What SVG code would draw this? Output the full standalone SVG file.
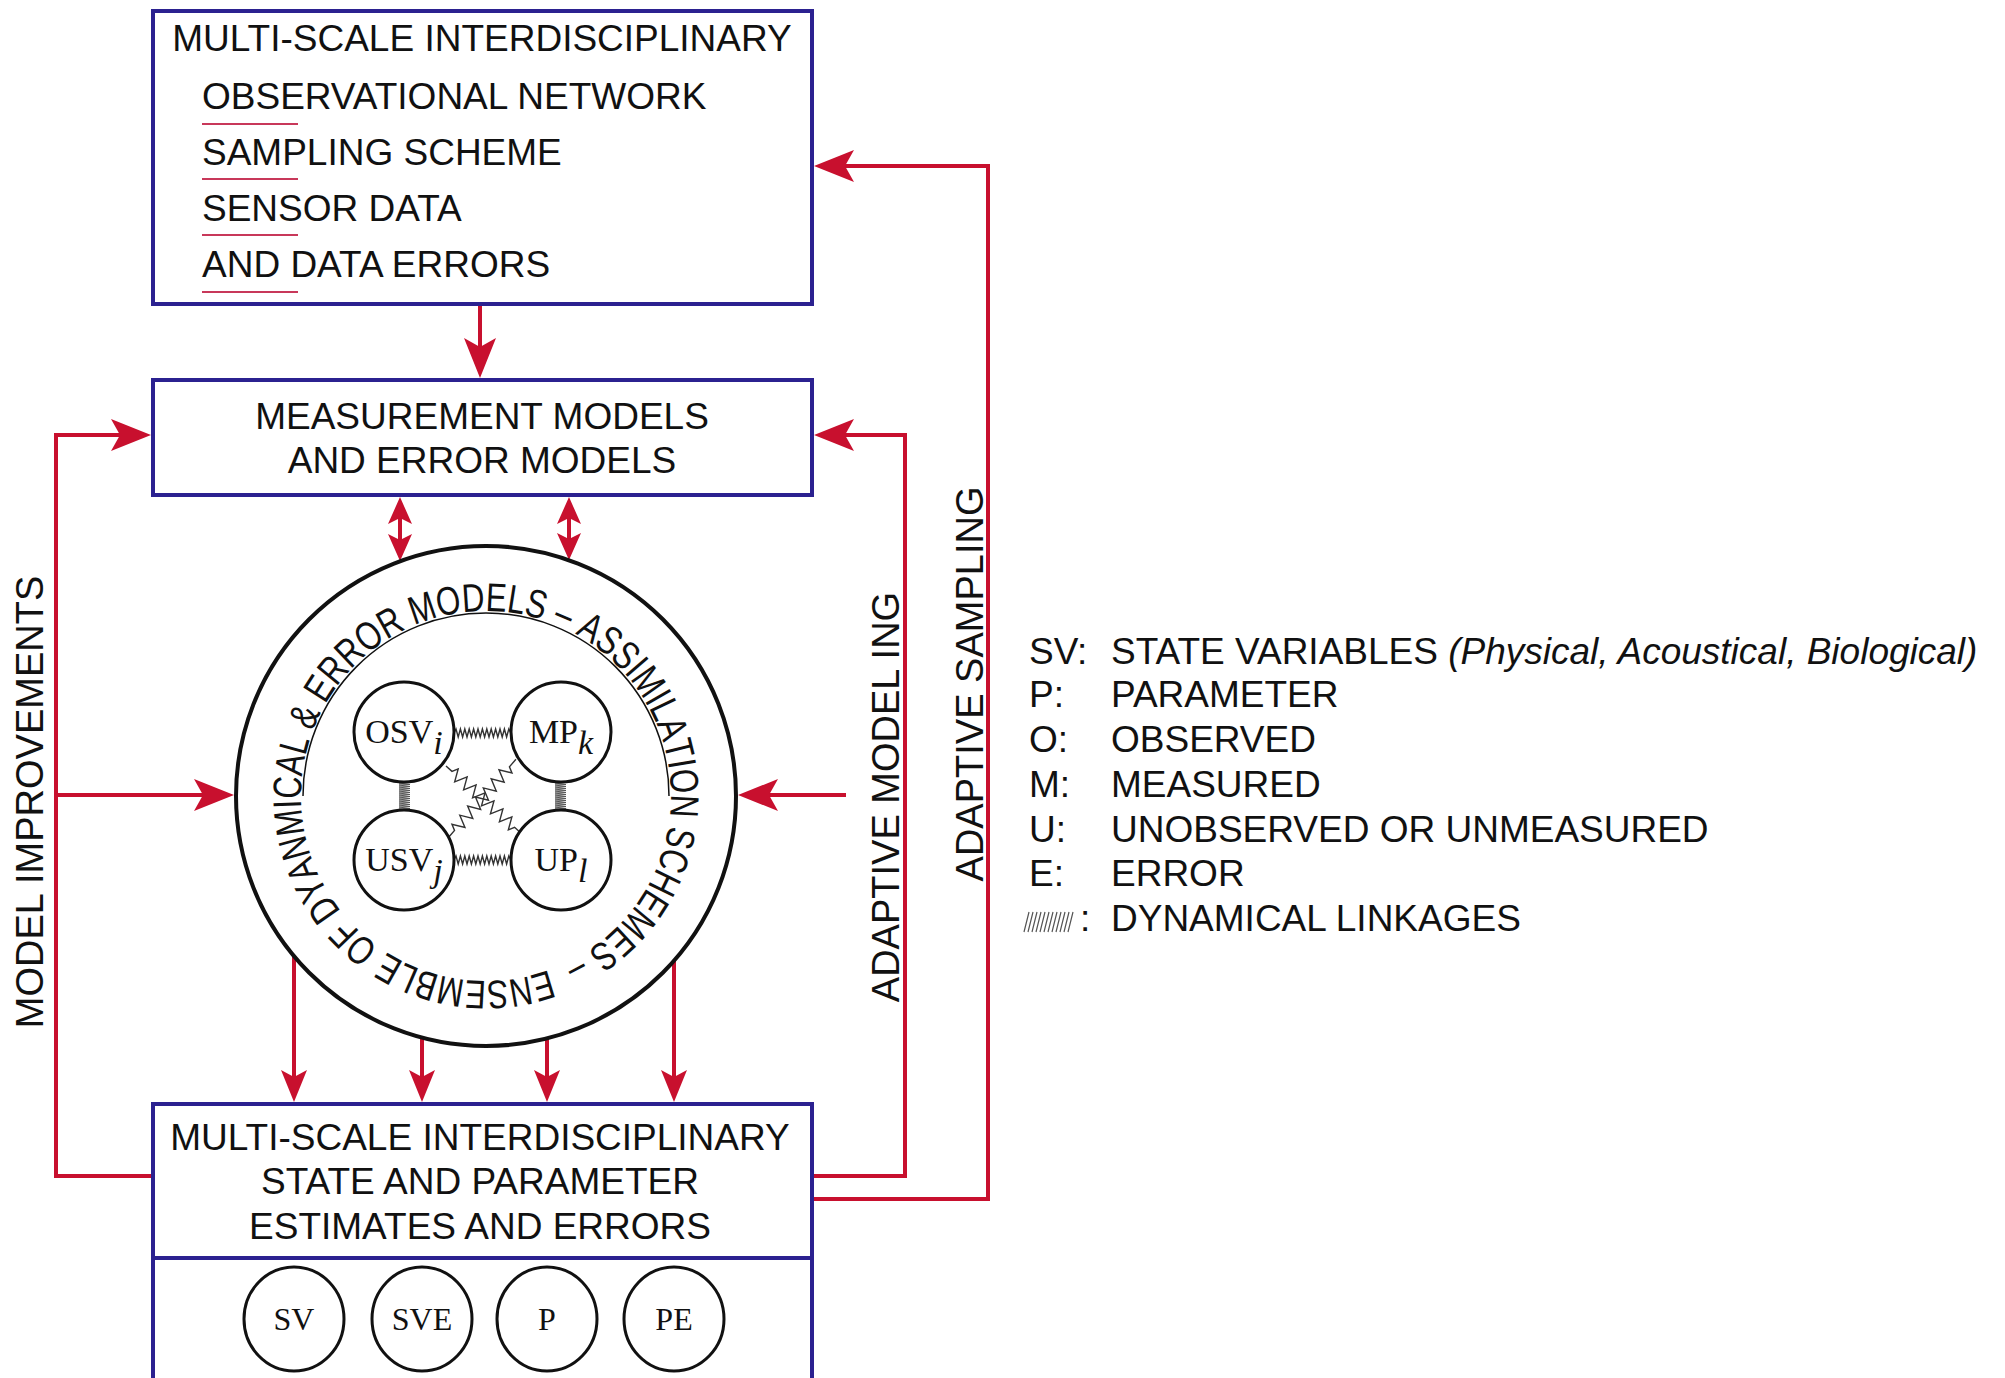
<svg xmlns="http://www.w3.org/2000/svg" width="2005" height="1378" viewBox="0 0 2005 1378">
<style>
.box{fill:#fff;stroke:#2b2190;stroke-width:4}
.t{font-family:"Liberation Sans",Arial,Helvetica,sans-serif;font-size:37px;fill:#111}
.rt{font-family:"Liberation Sans",Arial,Helvetica,sans-serif;font-size:38px;fill:#111}
.ring text{font-family:"Liberation Sans",Arial,Helvetica,sans-serif;font-size:40px;fill:#111;text-anchor:middle}
.s{font-family:"Liberation Serif","Times New Roman",serif;font-size:34px;fill:#111}
.sb{font-family:"Liberation Serif","Times New Roman",serif;font-size:32px;fill:#111}
.it{font-style:italic}
.r{fill:none;stroke:#c8102e;stroke-width:4}
.ul{stroke:#c8385a;stroke-width:2}
.c{fill:#fff;stroke:#111;stroke-width:3}
.zz{fill:none;stroke:#333;stroke-width:1.4}
.coil{fill:none;stroke:#555;stroke-width:1}
</style>
<defs>
<marker id="aL" markerUnits="userSpaceOnUse" viewBox="-34 -18 44 36" markerWidth="44" markerHeight="36" refX="0" refY="0" orient="auto" overflow="visible">
<path d="M8,0 L-32,-16 L-23,0 L-32,16 Z" fill="#c8102e"/>
</marker>
<marker id="aM" markerUnits="userSpaceOnUse" viewBox="-26 -15 36 30" markerWidth="36" markerHeight="30" refX="0" refY="0" orient="auto" overflow="visible">
<path d="M8,0 L-24,-13 L-17,0 L-24,13 Z" fill="#c8102e"/>
</marker>
<marker id="aS" markerUnits="userSpaceOnUse" viewBox="-22 -14 32 28" markerWidth="32" markerHeight="28" refX="0" refY="0" orient="auto-start-reverse" overflow="visible">
<path d="M8,0 L-19,-12 L-13,0 L-19,12 Z" fill="#c8102e"/>
</marker>
</defs>

<g id="connectors">
<path class="r" d="M480,304 V370" marker-end="url(#aL)"/>
<path class="r" d="M153,1176 H56 V435 H143" marker-end="url(#aL)"/>
<path class="r" d="M56,795 H226" marker-end="url(#aL)"/>
<path class="r" d="M812,1176 H905 V435 H822" marker-end="url(#aL)"/>
<path class="r" d="M846,795 H746" marker-end="url(#aL)"/>
<path class="r" d="M812,1199 H988 V166 H822" marker-end="url(#aL)"/>
<path class="r" d="M400,505 V553" marker-start="url(#aS)" marker-end="url(#aS)"/>
<path class="r" d="M569,505 V552" marker-start="url(#aS)" marker-end="url(#aS)"/>
<path class="r" d="M294,956 V1094" marker-end="url(#aM)"/>
<path class="r" d="M422,1038 V1094" marker-end="url(#aM)"/>
<path class="r" d="M547,1038 V1094" marker-end="url(#aM)"/>
<path class="r" d="M674,961 V1094" marker-end="url(#aM)"/>
</g>

<g id="observational-box">
<rect class="box" x="153" y="11" width="659" height="293"/>
<text class="t" x="482" y="51" text-anchor="middle">MULTI-SCALE INTERDISCIPLINARY</text>
<text class="t" x="202" y="109">OBSERVATIONAL NETWORK</text>
<text class="t" x="202" y="165">SAMPLING SCHEME</text>
<text class="t" x="202" y="221">SENSOR DATA</text>
<text class="t" x="202" y="277">AND DATA ERRORS</text>
<path class="ul" d="M202,124 H298 M202,179 H298 M202,235 H298 M202,292 H298"/>
</g>

<g id="measurement-box">
<rect class="box" x="153" y="380" width="659" height="115"/>
<text class="t" x="482" y="429" text-anchor="middle">MEASUREMENT MODELS</text>
<text class="t" x="482" y="473" text-anchor="middle">AND ERROR MODELS</text>
</g>

<g id="ensemble-circle">
<circle cx="486" cy="796" r="250" fill="#fff" stroke="#111" stroke-width="4"/>
<path d="M303,796 A183,183 0 0 1 669,796" fill="none" stroke="#111" stroke-width="1.5"/>
<g class="ring" transform="translate(486 796)">
<text transform="rotate(-196.78) translate(0 -185) scale(0.78 1)">E</text>
<text transform="rotate(-190.07) translate(0 -185) scale(0.78 1)">N</text>
<text transform="rotate(-183.36) translate(0 -185) scale(0.78 1)">S</text>
<text transform="rotate(-176.91) translate(0 -185) scale(0.78 1)">E</text>
<text transform="rotate(-169.66) translate(0 -185) scale(0.78 1)">M</text>
<text transform="rotate(-162.42) translate(0 -185) scale(0.78 1)">B</text>
<text transform="rotate(-156.51) translate(0 -185) scale(0.78 1)">L</text>
<text transform="rotate(-150.60) translate(0 -185) scale(0.78 1)">E</text>
<text transform="rotate(-140.93) translate(0 -185) scale(0.78 1)">O</text>
<text transform="rotate(-134.22) translate(0 -185) scale(0.78 1)">F</text>
<text transform="rotate(-125.09) translate(0 -185) scale(0.78 1)">D</text>
<text transform="rotate(-118.38) translate(0 -185) scale(0.78 1)">Y</text>
<text transform="rotate(-111.94) translate(0 -185) scale(0.78 1)">A</text>
<text transform="rotate(-105.23) translate(0 -185) scale(0.78 1)">N</text>
<text transform="rotate(-97.71) translate(0 -185) scale(0.78 1)">M</text>
<text transform="rotate(-92.35) translate(0 -185) scale(0.78 1)">I</text>
<text transform="rotate(-87.51) translate(0 -185) scale(0.78 1)">C</text>
<text transform="rotate(-80.80) translate(0 -185) scale(0.78 1)">A</text>
<text transform="rotate(-74.89) translate(0 -185) scale(0.78 1)">L</text>
<text transform="rotate(-66.30) translate(0 -185) scale(0.78 1)">&amp;</text>
<text transform="rotate(-57.17) translate(0 -185) scale(0.78 1)">E</text>
<text transform="rotate(-50.46) translate(0 -185) scale(0.78 1)">R</text>
<text transform="rotate(-43.48) translate(0 -185) scale(0.78 1)">R</text>
<text transform="rotate(-36.23) translate(0 -185) scale(0.78 1)">O</text>
<text transform="rotate(-28.99) translate(0 -185) scale(0.78 1)">R</text>
<text transform="rotate(-18.79) translate(0 -185) scale(0.78 1)">M</text>
<text transform="rotate(-11.00) translate(0 -185) scale(0.78 1)">O</text>
<text transform="rotate(-3.76) translate(0 -185) scale(0.78 1)">D</text>
<text transform="rotate(2.96) translate(0 -185) scale(0.78 1)">E</text>
<text transform="rotate(8.86) translate(0 -185) scale(0.78 1)">L</text>
<text transform="rotate(14.77) translate(0 -185) scale(0.78 1)">S</text>
<text transform="rotate(23.37) translate(0 -185) scale(0.78 1)">–</text>
<text transform="rotate(31.96) translate(0 -185) scale(0.78 1)">A</text>
<text transform="rotate(38.41) translate(0 -185) scale(0.78 1)">S</text>
<text transform="rotate(44.85) translate(0 -185) scale(0.78 1)">S</text>
<text transform="rotate(49.42) translate(0 -185) scale(0.78 1)">I</text>
<text transform="rotate(54.79) translate(0 -185) scale(0.78 1)">M</text>
<text transform="rotate(60.15) translate(0 -185) scale(0.78 1)">I</text>
<text transform="rotate(64.18) translate(0 -185) scale(0.78 1)">L</text>
<text transform="rotate(70.09) translate(0 -185) scale(0.78 1)">A</text>
<text transform="rotate(76.27) translate(0 -185) scale(0.78 1)">T</text>
<text transform="rotate(80.56) translate(0 -185) scale(0.78 1)">I</text>
<text transform="rotate(85.66) translate(0 -185) scale(0.78 1)">O</text>
<text transform="rotate(92.91) translate(0 -185) scale(0.78 1)">N</text>
<text transform="rotate(102.31) translate(0 -185) scale(0.78 1)">S</text>
<text transform="rotate(109.02) translate(0 -185) scale(0.78 1)">C</text>
<text transform="rotate(116.00) translate(0 -185) scale(0.78 1)">H</text>
<text transform="rotate(122.71) translate(0 -185) scale(0.78 1)">E</text>
<text transform="rotate(129.96) translate(0 -185) scale(0.78 1)">M</text>
<text transform="rotate(137.20) translate(0 -185) scale(0.78 1)">E</text>
<text transform="rotate(143.65) translate(0 -185) scale(0.78 1)">S</text>
<text transform="rotate(152.25) translate(0 -185) scale(0.78 1)">–</text>
</g>
</g>

<g id="linkages">
<path class="zz" d="M454,733 l2,-4 l2.2,8 l2.2,-8 l2.2,8 l2.2,-8 l2.2,8 l2.2,-8 l2.2,8 l2.2,-8 l2.2,8 l2.2,-8 l2.2,8 l2.2,-8 l2.2,8 l2.2,-8 l2.2,8 l2.2,-8 l2.2,8 l2.2,-8 l2.2,8 l2.2,-8 l2.2,8 l2.2,-8 l2.2,8 l2.2,-8 l2,4"/>
<path class="zz" d="M454,860 l2,-4 l2.2,8 l2.2,-8 l2.2,8 l2.2,-8 l2.2,8 l2.2,-8 l2.2,8 l2.2,-8 l2.2,8 l2.2,-8 l2.2,8 l2.2,-8 l2.2,8 l2.2,-8 l2.2,8 l2.2,-8 l2.2,8 l2.2,-8 l2.2,8 l2.2,-8 l2.2,8 l2.2,-8 l2.2,8 l2.2,-8 l2,4"/>
<path class="coil" d="M399,781 l11,1.6 l-11,0.4 l11,1.6 l-11,0.4 l11,1.6 l-11,0.4 l11,1.6 l-11,0.4 l11,1.6 l-11,0.4 l11,1.6 l-11,0.4 l11,1.6 l-11,0.4 l11,1.6 l-11,0.4 l11,1.6 l-11,0.4 l11,1.6 l-11,0.4 l11,1.6 l-11,0.4 l11,1.6 l-11,0.4 l11,1.6 l-11,0.4 l11,1.6 l-11,0.4 l11,1.6 l-11,0.4"/>
<path class="coil" d="M555,781 l11,1.6 l-11,0.4 l11,1.6 l-11,0.4 l11,1.6 l-11,0.4 l11,1.6 l-11,0.4 l11,1.6 l-11,0.4 l11,1.6 l-11,0.4 l11,1.6 l-11,0.4 l11,1.6 l-11,0.4 l11,1.6 l-11,0.4 l11,1.6 l-11,0.4 l11,1.6 l-11,0.4 l11,1.6 l-11,0.4 l11,1.6 l-11,0.4 l11,1.6 l-11,0.4 l11,1.6 l-11,0.4"/>
<path class="zz" transform="translate(446,766) rotate(41.8)" d="M0,0 h8 l3,-6 l6,12 l6,-12 l6,12 l6,-12 l6,12 l6,-12 l6,12 l6,-12 l6,12 l6,-12 l6,12 l6,-12 l6,12 l3,-6 h8"/>
<path class="zz" transform="translate(448,838) rotate(-49.2)" d="M0,0 h10 l3,-6 l6,12 l6,-12 l6,12 l6,-12 l6,12 l6,-12 l6,12 l6,-12 l6,12 l6,-12 l6,12 l6,-12 l6,12 l3,-6 h10"/>
</g>

<g id="osv">
<circle class="c" cx="404" cy="732" r="50"/>
<text class="s" x="404" y="743" text-anchor="middle">OSV<tspan class="it" dy="11">i</tspan></text>
</g>
<g id="mp">
<circle class="c" cx="561" cy="732" r="50"/>
<text class="s" x="561" y="743" text-anchor="middle">MP<tspan class="it" dy="11">k</tspan></text>
</g>
<g id="usv">
<circle class="c" cx="404" cy="860" r="50"/>
<text class="s" x="404" y="871" text-anchor="middle">USV<tspan class="it" dy="11">j</tspan></text>
</g>
<g id="up">
<circle class="c" cx="561" cy="860" r="50"/>
<text class="s" x="561" y="871" text-anchor="middle">UP<tspan class="it" dy="11">l</tspan></text>
</g>

<g id="estimates-box">
<rect class="box" x="153" y="1104" width="659" height="320"/>
<line x1="153" y1="1258" x2="812" y2="1258" stroke="#2b2190" stroke-width="4"/>
<text class="t" x="480" y="1150" text-anchor="middle">MULTI-SCALE INTERDISCIPLINARY</text>
<text class="t" x="480" y="1194" text-anchor="middle">STATE AND PARAMETER</text>
<text class="t" x="480" y="1239" text-anchor="middle">ESTIMATES AND ERRORS</text>
</g>
<g id="sv"><ellipse class="c" cx="294" cy="1319" rx="50" ry="52"/><text class="sb" x="294" y="1330" text-anchor="middle">SV</text></g>
<g id="sve"><ellipse class="c" cx="422" cy="1319" rx="50" ry="52"/><text class="sb" x="422" y="1330" text-anchor="middle">SVE</text></g>
<g id="p"><ellipse class="c" cx="547" cy="1319" rx="50" ry="52"/><text class="sb" x="547" y="1330" text-anchor="middle">P</text></g>
<g id="pe"><ellipse class="c" cx="674" cy="1319" rx="50" ry="52"/><text class="sb" x="674" y="1330" text-anchor="middle">PE</text></g>

<g id="loop-labels">
<text class="rt" transform="translate(43,802) rotate(-90)" text-anchor="middle">MODEL IMPROVEMENTS</text>
<text class="rt" transform="translate(899,797) rotate(-90)" text-anchor="middle">ADAPTIVE MODEL ING</text>
<text class="rt" transform="translate(983,684) rotate(-90)" text-anchor="middle">ADAPTIVE SAMPLING</text>
</g>

<g id="legend">
<text class="t" x="1029" y="664">SV:</text>
<text class="t" x="1111" y="664">STATE VARIABLES <tspan class="it">(Physical, Acoustical, Biological)</tspan></text>
<text class="t" x="1029" y="707">P:</text>
<text class="t" x="1111" y="707">PARAMETER</text>
<text class="t" x="1029" y="752">O:</text>
<text class="t" x="1111" y="752">OBSERVED</text>
<text class="t" x="1029" y="797">M:</text>
<text class="t" x="1111" y="797">MEASURED</text>
<text class="t" x="1029" y="842">U:</text>
<text class="t" x="1111" y="842">UNOBSERVED OR UNMEASURED</text>
<text class="t" x="1029" y="886">E:</text>
<text class="t" x="1111" y="886">ERROR</text>
<path d="M1024,932 l5,-20 M1028,932 l5,-20 M1032,932 l5,-20 M1036,932 l5,-20 M1040,932 l5,-20 M1044,932 l5,-20 M1048,932 l5,-20 M1052,932 l5,-20 M1056,932 l5,-20 M1060,932 l5,-20 M1064,932 l5,-20 M1068,932 l5,-20" stroke="#555" stroke-width="1.2" fill="none"/>
<text class="t" x="1080" y="931">:</text>
<text class="t" x="1111" y="931">DYNAMICAL LINKAGES</text>
</g>
</svg>
